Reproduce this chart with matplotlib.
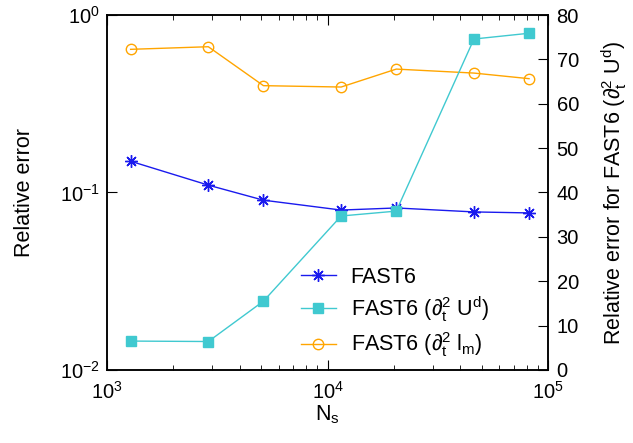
"""Relative error vs N_s for FAST6 variants (log-log with linear twin axis)."""
import matplotlib
matplotlib.use("Agg")
import matplotlib.pyplot as plt
from matplotlib.ticker import NullLocator, MultipleLocator

plt.rcParams["font.family"] = ["Liberation Sans", "DejaVu Sans"]
plt.rcParams["mathtext.fontset"] = "custom"
plt.rcParams["mathtext.rm"] = "Liberation Sans"
plt.rcParams["mathtext.it"] = "Liberation Sans"
plt.rcParams["mathtext.bf"] = "Liberation Sans:bold"

# data
n_s = [1280, 2880, 5120, 11520, 20480, 46080, 81920]
err_fast6 = [0.150, 0.110, 0.0905, 0.0796, 0.0818, 0.0777, 0.0767]
err_ud = [6.5, 6.4, 15.5, 34.7, 35.8, 74.6, 75.9]        # right axis
err_lm = [0.641, 0.663, 0.400, 0.393, 0.496, 0.471, 0.438]

label_fast6 = "FAST6"
label_ud = "FAST6 (∂$_t^2$ U$^d$)"
label_lm = "FAST6 (∂$_t^2$ l$_m$)"

BLUE = "#1a1aee"
CYAN = "#40c9d0"
ORANGE = "#ffa500"

TICK_FS = 14.5
LABEL_FS = 15.5

fig = plt.figure(figsize=(6.33, 4.43), dpi=100)
ax = fig.add_axes([0.169, 0.165, 0.697, 0.801])
ax2 = ax.twinx()

l1, = ax.plot(n_s, err_fast6, color=BLUE, lw=1.0, marker=(8, 2, 0),
              ms=9, mew=1.0, label=label_fast6)
l3, = ax.plot(n_s, err_lm, color=ORANGE, lw=1.0, marker="o", ms=7.5,
              mfc="none", mec=ORANGE, mew=1.0, label=label_lm)
l2, = ax2.plot(n_s, err_ud, color=CYAN, lw=1.0, marker="s", ms=7,
               mec=CYAN, label=label_ud)

ax.set_xscale("log")
ax.set_yscale("log")
ax.set_xlim(1e3, 1e5)
ax.set_ylim(1e-2, 1e0)
ax.yaxis.set_minor_locator(NullLocator())
ax2.set_ylim(0, 80)
ax2.yaxis.set_major_locator(MultipleLocator(10))

ax.tick_params(axis="x", which="both", direction="in", top=True, labelsize=TICK_FS)
ax.tick_params(axis="x", which="major", length=7, pad=8)
ax.tick_params(axis="x", which="minor", length=3.5)
ax.tick_params(axis="y", which="both", direction="in", right=False,
               length=7, labelsize=TICK_FS, pad=5)
ax2.tick_params(axis="y", direction="in", length=7, labelsize=TICK_FS, pad=6)

for a in (ax, ax2):
    for s in a.spines.values():
        s.set_linewidth(1.1)

ax.set_xlabel("N$_s$", fontsize=LABEL_FS, labelpad=0)
ax.set_ylabel("Relative error", fontsize=LABEL_FS, labelpad=18)
ax2.set_ylabel("Relative error for FAST6 (∂$_t^2$ U$^d$)", fontsize=LABEL_FS,
               labelpad=15)

ax.legend([l1, l2, l3], [label_fast6, label_ud, label_lm],
          loc="lower left", bbox_to_anchor=(0.44, 0.03), frameon=False,
          fontsize=LABEL_FS, handlelength=1.6, handletextpad=0.7,
          labelspacing=0.3, borderpad=0, borderaxespad=0)

fig.savefig("out.png", dpi=100)
